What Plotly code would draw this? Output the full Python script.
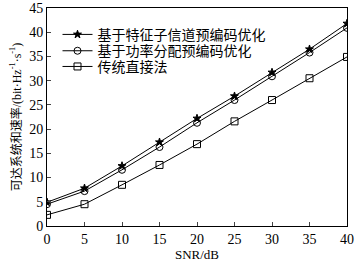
import plotly.graph_objects as go

snr = [0, 5, 10, 15, 20, 25, 30, 35, 40]
eig_precoding = [4.9, 7.8, 12.4, 17.3, 22.2, 26.8, 31.7, 36.5, 41.8]
power_precoding = [4.5, 7.2, 11.6, 16.3, 21.3, 26.0, 30.9, 35.8, 40.9]
direct_method = [2.3, 4.5, 8.5, 12.6, 16.9, 21.6, 26.0, 30.5, 34.9]
names = ["基于特征子信道预编码优化", "基于功率分配预编码优化", "传统直接法"]
x_ticks = [0, 5, 10, 15, 20, 25, 30, 35, 40]
y_ticks = [0, 5, 10, 15, 20, 25, 30, 35, 40, 45]

FONT = "Liberation Serif, Noto Sans CJK SC, serif"

fig = go.Figure()
series = [(eig_precoding, "star", 6), (power_precoding, "circle-open", 7), (direct_method, "square-open", 7)]
legend_ids = ["legend", "legend2", "legend3"]
for (vals, sym, sz), nm, lg in zip(series, names, legend_ids):
    fig.add_trace(go.Scatter(
        x=snr, y=vals, name=nm, mode="lines+markers", legend=lg,
        line=dict(color="black", width=1),
        marker=dict(symbol=sym, size=sz, color="black", line=dict(color="black", width=1)),
    ))

leg_common = dict(x=0.035, xanchor="left", yanchor="middle",
                  bgcolor="rgba(0,0,0,0)", font=dict(size=14, family=FONT),
                  itemwidth=30)
fig.update_layout(
    width=360, height=264,
    margin=dict(l=47, r=13, t=8, b=38),
    paper_bgcolor="white", plot_bgcolor="white",
    font=dict(family=FONT, color="black", size=14),
    showlegend=True,
    legend=dict(y=0.877, **leg_common),
    legend2=dict(y=0.802, **leg_common),
    legend3=dict(y=0.730, **leg_common),
)
fig.update_xaxes(range=[0, 40], tickvals=x_ticks, ticks="inside", ticklen=4,
                 showline=True, linecolor="black", linewidth=1, mirror=True,
                 showgrid=False, zeroline=False, automargin=False,
                 title=dict(text="SNR/dB", font=dict(size=13), standoff=3),
                 tickfont=dict(size=14))
fig.update_yaxes(range=[0, 45], tickvals=y_ticks, ticks="inside", ticklen=4,
                 showline=True, linecolor="black", linewidth=1, mirror=True,
                 showgrid=False, zeroline=False, automargin=False,
                 title=dict(text="可达系统和速率/(bit·Hz<sup>-1</sup>·s<sup>-1</sup>)", font=dict(size=12), standoff=5),
                 tickfont=dict(size=14))

fig.write_html("out.html", config={"displayModeBar": False},
               post_script="document.body.style.margin='0';document.body.style.overflow='hidden';")
